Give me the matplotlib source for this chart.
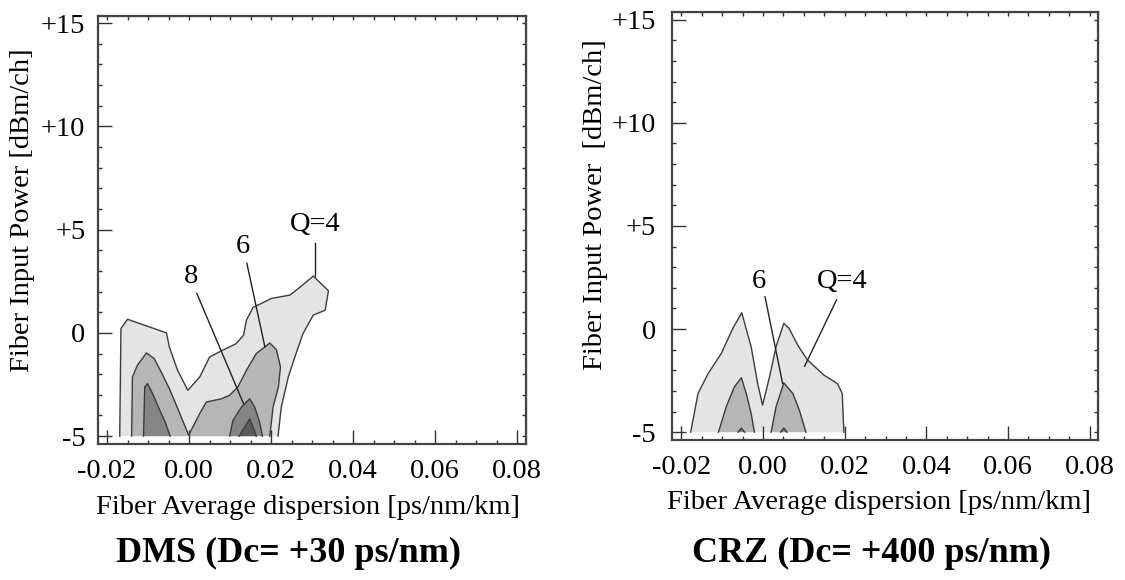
import numpy as np
import matplotlib
matplotlib.use("Agg")
import matplotlib.pyplot as plt
from matplotlib.ticker import MultipleLocator, FixedLocator

plt.rcParams['font.family'] = ['Liberation Serif', 'DejaVu Serif']

# Q-factor contour regions, DMS (Dc = +30 ps/nm)
dms_q4_x = [-0.0169, -0.0166, -0.0150, -0.0055, -0.0048, -0.0028, -0.0003, 0.0026, 0.0050,
            0.0079, 0.0115, 0.0133, 0.0140, 0.0156, 0.0201, 0.0246, 0.0274, 0.0303, 0.0340,
            0.0332, 0.0303, 0.0278, 0.0258, 0.0242, 0.0225, 0.0217]
dms_q4_y = [-5.0, 0.21, 0.66, 0.0, -0.68, -1.81, -2.78, -2.14, -1.17,
            -0.87, -0.52, -0.11, 0.62, 1.23, 1.67, 1.83, 2.27, 2.75, 2.04,
            1.10, 0.86, -0.03, -1.17, -2.14, -3.59, -5.0]
dms_q6_x = [-0.0140, -0.0138, -0.0126, -0.0104, -0.0085, -0.0068, -0.0048, -0.0024, -0.0001,
            0.0026, 0.0042, 0.0079, 0.0099, 0.0119, 0.0140, 0.0164, 0.0197, 0.0213, 0.0223,
            0.0218, 0.0205, 0.0197]
dms_q6_y = [-5.0, -2.14, -1.57, -0.97, -1.24, -1.89, -2.70, -3.83, -4.95,
            -3.91, -3.35, -3.19, -3.02, -2.62, -1.81, -1.00, -0.49, -0.81, -1.65,
            -2.62, -3.59, -5.0]
dms_q8a_x = [-0.0111, -0.0108, -0.0101, -0.0089, -0.0073, -0.0058, -0.0046]
dms_q8a_y = [-5.0, -2.62, -2.46, -2.94, -3.67, -4.32, -5.0]
dms_q8b_x = [0.0099, 0.0107, 0.0128, 0.0148, 0.0160, 0.0171, 0.0179]
dms_q8b_y = [-5.0, -4.24, -3.59, -3.19, -3.59, -4.24, -5.0]
dms_q10_x = [0.0122, 0.0136, 0.0148, 0.0156, 0.0164]
dms_q10_y = [-5.0, -4.56, -4.16, -4.56, -5.0]

# Q-factor contour regions, CRZ (Dc = +400 ps/nm)
crz_q4_x = [-0.0177, -0.0159, -0.0134, -0.0102, -0.0074, -0.0052, -0.0029, -0.0013, -0.0001,
            0.0016, 0.0032, 0.0051, 0.0064, 0.0085, 0.0109, 0.0149, 0.0182, 0.0194, 0.0198]
crz_q4_y = [-5.0, -3.12, -2.15, -1.18, 0.03, 0.79, -0.86, -2.64, -3.69,
            -2.32, -0.86, 0.28, 0.03, -0.78, -1.50, -2.23, -2.64, -3.12, -5.0]
crz_q6a_x = [-0.0109, -0.0090, -0.0070, -0.0053, -0.0041, -0.0029, -0.0021]
crz_q6a_y = [-5.0, -3.77, -2.80, -2.36, -3.12, -4.09, -5.0]
crz_q6b_x = [0.0020, 0.0032, 0.0051, 0.0073, 0.0089, 0.0105]
crz_q6b_y = [-5.0, -3.77, -2.61, -3.12, -3.93, -5.0]
crz_q8a_x = [-0.0061, -0.0053, -0.0045]
crz_q8a_y = [-5.0, -4.8, -5.0]
crz_q8b_x = [0.0043, 0.0051, 0.0059]
crz_q8b_y = [-5.0, -4.8, -5.0]

# contour labels: (text, label x, label y, line start, line end)
dms_labels = [("8", 0.0005, 2.72, (0.0019, 1.91), (0.0133, -3.43)),
              ("6", 0.0132, 4.17, (0.0141, 3.37), (0.0185, -0.68)),
              ("Q=4", 0.0309, 5.23, (0.0307, 4.34), (0.0307, 2.75))]
crz_labels = [("6", -0.0009, 2.30, (0.0005, 1.57), (0.0048, -2.64)),
              ("Q=4", 0.0194, 2.30, (0.0180, 1.41), (0.0102, -1.80))]

x_ticks = [-0.02, 0.00, 0.02, 0.04, 0.06, 0.08]
x_ticklabels = ["-0.02", "0.00", "0.02", "0.04", "0.06", "0.08"]
y_ticks = [-5, 0, 5, 10, 15]
y_ticklabels = ["-5", "0", "+5", "+10", "+15"]

level_colors = {4: "#e4e4e4", 6: "#b6b6b6", 8: "#858585", 10: "#5c5c5c"}
edge = "#3c3c3c"
fs = 20.5


def region(ax, xs, ys, level):
    ax.fill(xs, ys, color=level_colors[level], lw=0, zorder=1)
    # outline without the bottom edge of the grid
    ax.plot(xs, ys, color=edge, lw=1.0, zorder=2)


def style_axes(ax, ypad):
    ax.set_xlim(-0.0222, 0.0821)
    ax.set_ylim(-5.38, 15.36)
    for s in ax.spines.values():
        s.set_linewidth(1.6)
        s.set_color("#444444")
    ax.xaxis.set_major_locator(FixedLocator(x_ticks))
    ax.set_xticklabels(x_ticklabels)
    ax.xaxis.set_minor_locator(MultipleLocator(0.005))
    ax.yaxis.set_major_locator(FixedLocator(y_ticks))
    ax.set_yticklabels(y_ticklabels)
    ax.yaxis.set_minor_locator(MultipleLocator(1))
    ax.tick_params(which="major", direction="in", length=10, width=1.0,
                   colors="#333333", labelcolor="black", labelsize=fs)
    ax.tick_params(which="minor", direction="in", length=3, width=1.0, colors="#333333")
    ax.tick_params(axis="x", which="major", pad=11)
    ax.tick_params(axis="y", which="major", pad=ypad)
    top = ax.secondary_xaxis("top")
    top.set_xticks(np.arange(-0.02, 0.0801, 0.005))
    top.tick_params(direction="in", length=3, width=1.0, colors="#333333", labeltop=False)
    right = ax.secondary_yaxis("right")
    right.set_yticks(np.arange(-5, 15.1, 1))
    right.tick_params(direction="in", length=3, width=1.0, colors="#333333", labelright=False)


fig = plt.figure(figsize=(11.25, 5.8), dpi=100)
ax1 = fig.add_axes([0.0871, 0.2345, 0.3802, 0.7384])
ax2 = fig.add_axes([0.5976, 0.2414, 0.3787, 0.7374])

region(ax1, dms_q4_x, dms_q4_y, 4)
region(ax1, dms_q6_x, dms_q6_y, 6)
region(ax1, dms_q8a_x, dms_q8a_y, 8)
region(ax1, dms_q8b_x, dms_q8b_y, 8)
region(ax1, dms_q10_x, dms_q10_y, 10)

region(ax2, crz_q4_x, crz_q4_y, 4)
region(ax2, crz_q6a_x, crz_q6a_y, 6)
region(ax2, crz_q6b_x, crz_q6b_y, 6)
region(ax2, crz_q8a_x, crz_q8a_y, 8)
region(ax2, crz_q8b_x, crz_q8b_y, 8)

for ax, labels, ypad in ((ax1, dms_labels, 9), (ax2, crz_labels, 12)):
    for txt, lx, ly, p0, p1 in labels:
        ax.text(lx, ly, txt, fontsize=fs, ha="center", va="center", zorder=4)
        ax.plot([p0[0], p1[0]], [p0[1], p1[1]], color="#222222", lw=1.0, zorder=3)
    style_axes(ax, ypad)
    ax.set_xlabel("Fiber Average dispersion [ps/nm/km]", fontsize=fs)

ax1.xaxis.set_label_coords(0.49, -0.118)
ax2.xaxis.set_label_coords(0.485, -0.118)
ax1.set_ylabel("Fiber Input Power [dBm/ch]", fontsize=fs)
ax2.set_ylabel("Fiber Input Power  [dBm/ch]", fontsize=fs)
ax1.yaxis.set_label_coords(-0.147, 0.547)
ax2.yaxis.set_label_coords(-0.151, 0.551)

fig.text(0.256, 0.046, "DMS (Dc= +30 ps/nm)", fontsize=26, fontweight="bold",
         ha="center", va="center")
fig.text(0.775, 0.046, "CRZ (Dc= +400 ps/nm)", fontsize=26, fontweight="bold",
         ha="center", va="center")

fig.savefig("out.png", dpi=100)
